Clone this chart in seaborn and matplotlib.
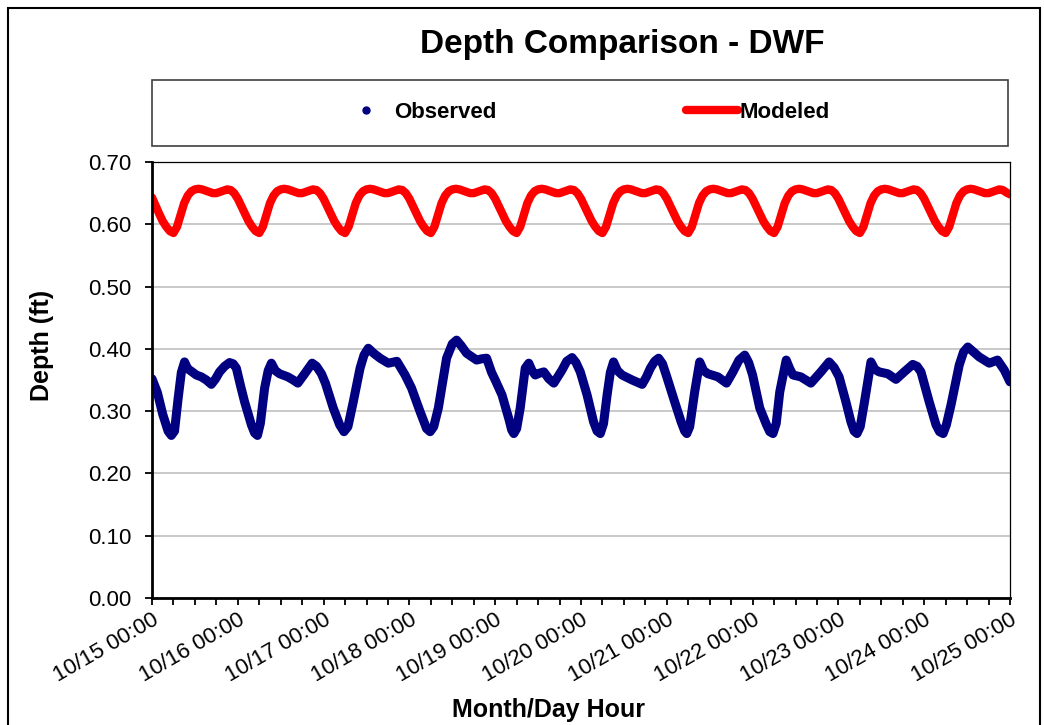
import numpy as np
import pandas as pd
import matplotlib
matplotlib.use("Agg")
import matplotlib.pyplot as plt
import matplotlib.dates as mdates
from matplotlib.lines import Line2D
from matplotlib.patches import Rectangle
import seaborn as sns

# ---------------- data ----------------
start = pd.Timestamp("2000-10-15 00:00")

obs_hours = [
    0.0, 1.5, 3.0, 4.5, 5.4, 6.3, 7.3, 8.2, 9.1, 10.0, 11.0, 12.4, 13.8, 15.2, 16.6, 17.8, 18.9, 20.3, 21.7, 22.7, 23.6,
    24.8, 25.9, 27.8, 28.7, 29.5, 30.3, 31.5, 32.5, 33.4, 34.5, 35.7, 38.0, 39.5, 40.8, 42.7, 44.8, 46.0, 47.4,
    48.5, 50.7, 52.5, 53.7, 54.8, 56.3, 58.2, 59.3, 60.5, 62.0, 63.8, 66.1, 68.5, 70.8,
    72.6, 75.0, 76.8, 77.8, 78.8, 80.1, 82.4, 84.0, 85.2, 86.5, 88.0, 90.8, 92.2, 93.6, 95.0,
    96.0, 97.9, 99.8, 100.6, 101.2, 102.0, 103.0, 104.4, 105.4, 106.3, 107.2, 108.4, 109.6, 111.0, 112.4, 114.7, 116.0, 117.5, 118.6, 119.8,
    121.7, 123.5, 124.5, 125.4, 126.3, 127.3, 128.2, 129.1, 130.2, 131.5, 134.3, 137.1, 138.3, 139.4, 140.6, 141.7, 142.8,
    144.0, 146.2, 148.0, 149.0, 149.6, 150.4, 151.8, 153.2, 154.3, 155.5, 158.3, 160.7, 162.5, 164.2, 165.8, 166.9,
    168.0, 170.0, 171.9, 172.8, 173.7, 174.6, 175.6, 177.4, 178.4, 179.3, 181.5, 184.3, 187.1, 189.4, 190.8,
    192.2, 194.1, 195.5, 196.4, 197.2, 198.1, 199.3, 201.1, 202.2, 203.4, 205.8, 208.1, 210.4, 212.8, 214.0, 215.1,
    217.4, 219.3, 220.3, 221.3, 222.2, 223.5, 225.8, 227.0, 228.2, 229.8, 231.4, 234.2, 236.5, 238.4, 240.0,
]
obs_depth = [
    0.352, 0.330, 0.295, 0.268, 0.261, 0.268, 0.320, 0.362, 0.379, 0.368, 0.364, 0.358, 0.355, 0.350, 0.343, 0.352, 0.363, 0.372, 0.378, 0.376, 0.369,
    0.340, 0.315, 0.278, 0.265, 0.261, 0.280, 0.337, 0.365, 0.377, 0.365, 0.360, 0.355, 0.350, 0.345, 0.360, 0.377, 0.372, 0.360,
    0.345, 0.305, 0.278, 0.267, 0.275, 0.315, 0.369, 0.390, 0.401, 0.393, 0.385, 0.377, 0.380, 0.358,
    0.337, 0.299, 0.272, 0.267, 0.275, 0.305, 0.385, 0.408, 0.414, 0.405, 0.393, 0.382, 0.384, 0.385, 0.362,
    0.350, 0.326, 0.288, 0.270, 0.264, 0.272, 0.305, 0.369, 0.377, 0.365, 0.358, 0.361, 0.363, 0.352, 0.345, 0.366, 0.380, 0.386, 0.378, 0.363,
    0.326, 0.283, 0.268, 0.264, 0.280, 0.326, 0.362, 0.379, 0.365, 0.358, 0.350, 0.343, 0.355, 0.369, 0.380, 0.385, 0.376,
    0.355, 0.315, 0.283, 0.268, 0.264, 0.275, 0.331, 0.379, 0.365, 0.360, 0.355, 0.345, 0.363, 0.382, 0.390, 0.378,
    0.358, 0.305, 0.278, 0.267, 0.264, 0.280, 0.331, 0.382, 0.368, 0.358, 0.355, 0.345, 0.363, 0.379, 0.370,
    0.355, 0.315, 0.283, 0.268, 0.264, 0.275, 0.315, 0.379, 0.367, 0.363, 0.360, 0.351, 0.363, 0.375, 0.372, 0.363,
    0.315, 0.278, 0.267, 0.264, 0.278, 0.310, 0.374, 0.395, 0.403, 0.395, 0.387, 0.377, 0.382, 0.366, 0.347,
]

# modeled depth, hourly from 10/15 00:00 to 10/25 00:00
mod_depth = [
    0.643, 0.630, 0.617, 0.605, 0.596, 0.589, 0.586, 0.596, 0.615, 0.634, 0.646, 0.653, 0.656, 0.657, 0.656, 0.654, 0.652, 0.650, 0.650, 0.652, 0.654, 0.656, 0.655, 0.650,
    0.641, 0.629, 0.617, 0.605, 0.596, 0.589, 0.586, 0.596, 0.615, 0.634, 0.646, 0.653, 0.656, 0.657, 0.656, 0.654, 0.652, 0.650, 0.650, 0.652, 0.654, 0.656, 0.655, 0.650,
    0.641, 0.629, 0.617, 0.605, 0.596, 0.589, 0.586, 0.596, 0.615, 0.634, 0.646, 0.653, 0.656, 0.657, 0.656, 0.654, 0.652, 0.650, 0.650, 0.652, 0.654, 0.656, 0.655, 0.650,
    0.641, 0.629, 0.617, 0.605, 0.596, 0.589, 0.586, 0.596, 0.615, 0.634, 0.646, 0.653, 0.656, 0.657, 0.656, 0.654, 0.652, 0.650, 0.650, 0.652, 0.654, 0.656, 0.655, 0.650,
    0.641, 0.629, 0.617, 0.605, 0.596, 0.589, 0.586, 0.596, 0.615, 0.634, 0.646, 0.653, 0.656, 0.657, 0.656, 0.654, 0.652, 0.650, 0.650, 0.652, 0.654, 0.656, 0.655, 0.650,
    0.641, 0.629, 0.617, 0.605, 0.596, 0.589, 0.586, 0.596, 0.615, 0.634, 0.646, 0.653, 0.656, 0.657, 0.656, 0.654, 0.652, 0.650, 0.650, 0.652, 0.654, 0.656, 0.655, 0.650,
    0.641, 0.629, 0.617, 0.605, 0.596, 0.589, 0.586, 0.596, 0.615, 0.634, 0.646, 0.653, 0.656, 0.657, 0.656, 0.654, 0.652, 0.650, 0.650, 0.652, 0.654, 0.656, 0.655, 0.650,
    0.641, 0.629, 0.617, 0.605, 0.596, 0.589, 0.586, 0.596, 0.615, 0.634, 0.646, 0.653, 0.656, 0.657, 0.656, 0.654, 0.652, 0.650, 0.650, 0.652, 0.654, 0.656, 0.655, 0.650,
    0.641, 0.629, 0.617, 0.605, 0.596, 0.589, 0.586, 0.596, 0.615, 0.634, 0.646, 0.653, 0.656, 0.657, 0.656, 0.654, 0.652, 0.650, 0.650, 0.652, 0.654, 0.656, 0.655, 0.650,
    0.641, 0.629, 0.617, 0.605, 0.596, 0.589, 0.586, 0.596, 0.615, 0.634, 0.646, 0.653, 0.656, 0.657, 0.656, 0.654, 0.652, 0.650, 0.650, 0.652, 0.654, 0.656, 0.655, 0.651,
    0.648,
]
mod_hours = list(range(len(mod_depth)))

y_ticks = [0.0, 0.1, 0.2, 0.3, 0.4, 0.5, 0.6, 0.7]

title = "Depth Comparison - DWF"
x_label = "Month/Day Hour"
y_label = "Depth (ft)"

# ---------------- frames ----------------
obs_df = pd.DataFrame({"time": start + pd.to_timedelta(obs_hours, unit="h"), "depth": obs_depth})
mod_df = pd.DataFrame({"time": start + pd.to_timedelta(mod_hours, unit="h"), "depth": mod_depth})

sns.set_theme(style="white")
plt.rcParams["font.family"] = ["Liberation Sans", "DejaVu Sans"]
plt.rcParams["text.color"] = "black"
plt.rcParams["axes.labelcolor"] = "black"
plt.rcParams["xtick.color"] = "black"
plt.rcParams["ytick.color"] = "black"

W, H = 1044, 725
fig = plt.figure(figsize=(W / 100, H / 100), dpi=100)
ax = fig.add_axes([152 / W, 1 - 598 / H, (1010 - 152) / W, (598 - 162) / H])

NAVY = "#000080"
RED = "#FF0000"

sns.lineplot(data=mod_df, x="time", y="depth", ax=ax, color=RED, linewidth=6,
             solid_capstyle="round", solid_joinstyle="round", zorder=3)
sns.lineplot(data=obs_df, x="time", y="depth", ax=ax, color=NAVY, linewidth=6.5,
             solid_capstyle="round", solid_joinstyle="round", zorder=4)

ax.set_xlim(start, start + pd.Timedelta(hours=240))
ax.set_ylim(0, 0.7)
ax.set_yticks(y_ticks)
ax.yaxis.set_major_formatter(matplotlib.ticker.FormatStrFormatter("%.2f"))
ax.xaxis.set_major_locator(mdates.DayLocator())
ax.xaxis.set_minor_locator(mdates.HourLocator(byhour=[6, 12, 18]))
ax.xaxis.set_major_formatter(mdates.DateFormatter("%m/%d %H:%M"))

ax.grid(axis="y", color="#c0c0c0", linewidth=1.2)
ax.grid(axis="x", visible=False)
ax.set_axisbelow(True)

for side in ["top", "right"]:
    ax.spines[side].set_color("black")
    ax.spines[side].set_linewidth(0.9)
for side in ["left", "bottom"]:
    ax.spines[side].set_color("black")
    ax.spines[side].set_linewidth(2.0)
    ax.spines[side].set_zorder(5)

ax.tick_params(axis="both", which="both", direction="out", length=5, width=1.3, color="black",
               bottom=True, left=True)
ax.tick_params(axis="y", labelsize=16, pad=10)
ax.tick_params(axis="x", labelsize=16, pad=3)
for lab in ax.get_xticklabels():
    lab.set_rotation(30)
    lab.set_ha("right")
    lab.set_rotation_mode("anchor")

ax.set_xlabel(x_label, fontsize=18, fontweight="bold")
ax.set_ylabel(y_label, fontsize=18, fontweight="bold")
ax.xaxis.set_label_coords((548 - 152) / 858, -(710 - 598) / 436)
ax.xaxis.label.set_va("center")
ax.yaxis.set_label_coords((42 - 152) / 858, (598 - 345) / 436)
ax.yaxis.label.set_va("center")

fig.text(622 / W, 1 - 45 / H, title, ha="center", va="center", fontsize=24, fontweight="bold")

# legend box
fig.patches.append(Rectangle((152 / W, 1 - 146 / H), (1008 - 152) / W, (146 - 80) / H,
                             transform=fig.transFigure, fill=False, edgecolor="#404040", linewidth=1.2))
handles = [Line2D([], [], marker="o", linestyle="", color=NAVY, markersize=5),
           Line2D([], [], color=RED, linewidth=6, solid_capstyle="round")]
fig.legend(handles, ["Observed", "Modeled"], loc="center", bbox_to_anchor=(585 / W, 1 - 112 / H),
           ncol=2, frameon=False, prop={"size": 16, "weight": "bold"},
           handlelength=2.35, handletextpad=0.1, columnspacing=8.5)

# outer chart border
fig.patches.append(Rectangle((8 / W, -0.01), (1040 - 8) / W, 1.01 - 8 / H,
                             transform=fig.transFigure, fill=False, edgecolor="black", linewidth=1.5))

fig.savefig("out.png", dpi=100)
